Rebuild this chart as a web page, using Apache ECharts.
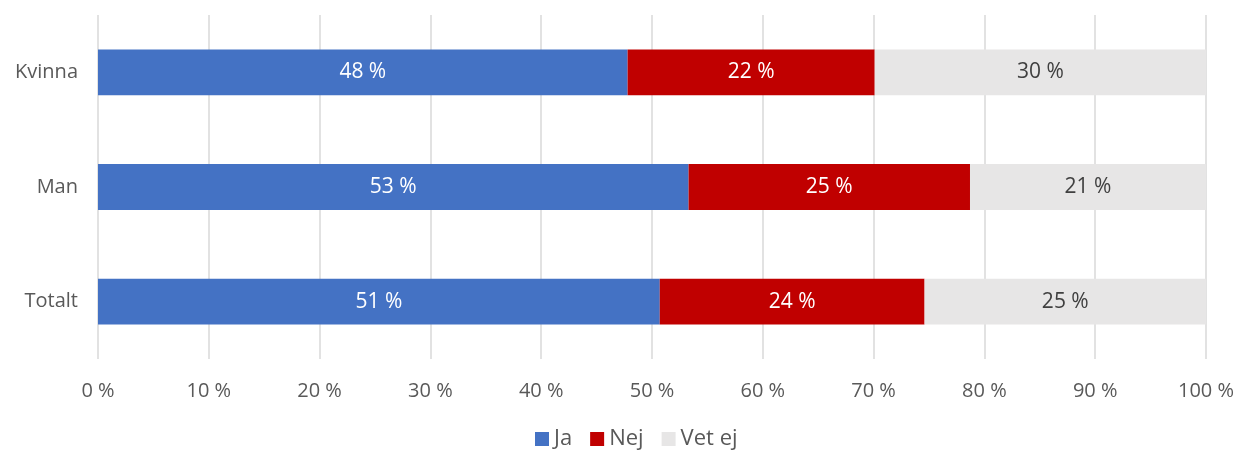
<!DOCTYPE html>
<html><head><meta charset="utf-8">
<script src="https://cdn.jsdelivr.net/npm/echarts@6/dist/echarts.min.js"></script>
<style>html,body{margin:0;padding:0;background:#fff}#c{width:1238px;height:454px}</style>
</head><body><div id="c"></div>
<script>
const categories = ['Kvinna', 'Man', 'Totalt'];
const ja = [47.8, 53.3, 50.7];
const nej = [22.3, 25.4, 23.9];
const vetEj = [29.9, 21.3, 25.4];
const seriesNames = ['Ja', 'Nej', 'Vet ej'];
const tickValues = [0,10,20,30,40,50,60,70,80,90,100];

const font = '"Open Sans", "Noto Sans", sans-serif';
const fs = 20;
const chart = echarts.init(document.getElementById('c'));
function mk(name, data, color, labelColor){
  return {
    name, type:'bar', stack:'t', data, barWidth:'40%',
    itemStyle:{color},
    label:{show:true, position:'inside', color:labelColor, fontFamily:font, fontSize:21,
      formatter:p=>Math.round(p.value)+' %'}
  };
}
chart.setOption({
  animation:false,
  grid:{left:98, right:32, top:15, bottom:95, containLabel:false},
  legend:{bottom:-1, left:530, itemWidth:14, itemHeight:14, itemGap:18, icon:'rect',
    textStyle:{color:'#595959', fontFamily:font, fontSize:22}, data:seriesNames},
  xAxis:{type:'value', min:0, max:100, interval:10,
    axisLine:{show:false}, axisTick:{show:false},
    splitLine:{lineStyle:{color:'#D9D9D9', width:1.5}},
    axisLabel:{color:'#595959', fontFamily:font, fontSize:fs, margin:22,
      formatter:v=>v+' %'}},
  yAxis:{type:'category', data:categories, inverse:true,
    axisLine:{show:false}, axisTick:{show:false},
    axisLabel:{color:'#595959', fontFamily:font, fontSize:fs, margin:20}},
  series:[
    mk(seriesNames[0], ja, '#4472C4', '#ffffff'),
    mk(seriesNames[1], nej, '#C00000', '#ffffff'),
    mk(seriesNames[2], vetEj, '#E7E6E6', '#404040')
  ]
});
</script></body></html>
